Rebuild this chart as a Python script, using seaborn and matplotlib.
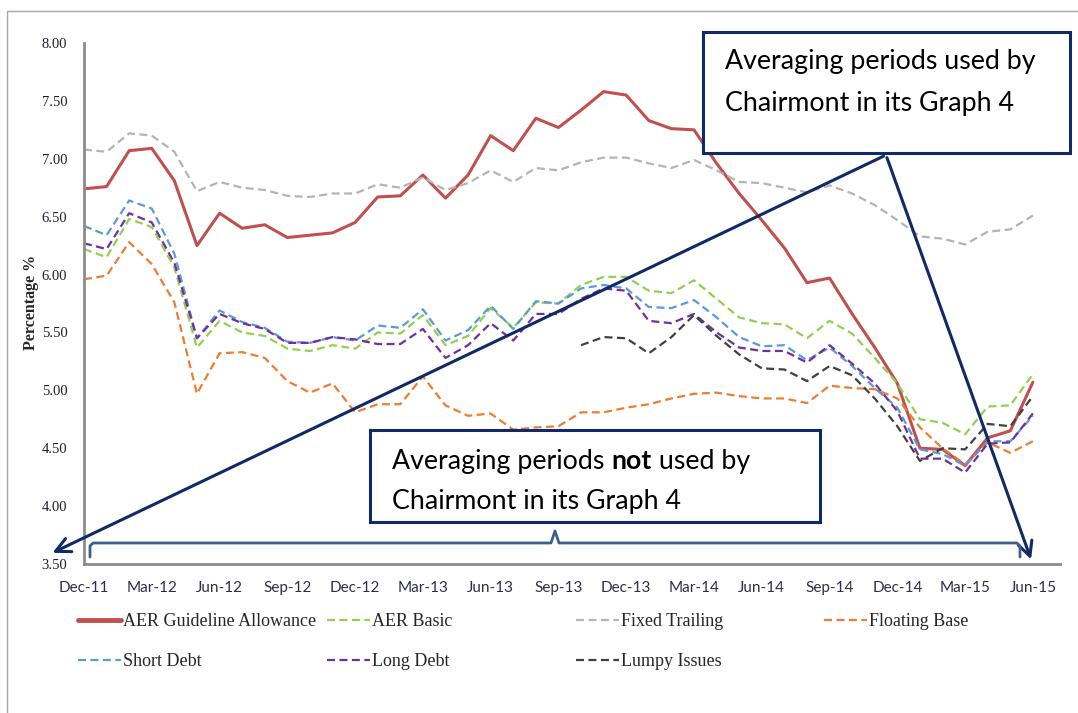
import numpy as np
import pandas as pd
import matplotlib
matplotlib.use("Agg")
import matplotlib.pyplot as plt
import seaborn as sns
from matplotlib.lines import Line2D
from matplotlib.patches import Rectangle, FancyArrowPatch

# ---- data (monthly, Dec-11 .. Jun-15) ----
months = pd.date_range("2011-12-01", "2015-06-01", freq="MS")
tick_labels = ["Dec-11", "Mar-12", "Jun-12", "Sep-12", "Dec-12", "Mar-13", "Jun-13",
               "Sep-13", "Dec-13", "Mar-14", "Jun-14", "Sep-14", "Dec-14", "Mar-15", "Jun-15"]

aer_guideline = [6.74, 6.76, 7.07, 7.09, 6.81, 6.25, 6.53, 6.40, 6.43, 6.32, 6.34, 6.36, 6.45,
                 6.67, 6.68, 6.86, 6.66, 6.86, 7.20, 7.07, 7.35, 7.27, 7.42, 7.58, 7.55,
                 7.33, 7.26, 7.25, 6.96, 6.70, 6.47, 6.23, 5.93, 5.97, 5.66, 5.37, 5.06,
                 4.50, 4.49, 4.35, 4.59, 4.65, 5.07]
aer_basic = [6.22, 6.15, 6.48, 6.41, 6.06, 5.37, 5.60, 5.50, 5.47, 5.36, 5.34, 5.39, 5.36,
             5.50, 5.49, 5.65, 5.39, 5.47, 5.71, 5.54, 5.76, 5.75, 5.91, 5.98, 5.98,
             5.86, 5.84, 5.95, 5.79, 5.63, 5.58, 5.57, 5.45, 5.60, 5.49, 5.28, 5.06,
             4.75, 4.72, 4.62, 4.86, 4.87, 5.14]
fixed_trailing = [7.08, 7.06, 7.22, 7.20, 7.06, 6.72, 6.80, 6.75, 6.73, 6.68, 6.67, 6.70, 6.70,
                  6.78, 6.75, 6.84, 6.73, 6.79, 6.90, 6.80, 6.92, 6.90, 6.97, 7.01, 7.01,
                  6.96, 6.92, 6.99, 6.90, 6.80, 6.79, 6.75, 6.71, 6.77, 6.70, 6.60, 6.47,
                  6.33, 6.31, 6.26, 6.37, 6.39, 6.51]
floating_base = [5.96, 5.99, 6.28, 6.09, 5.76, 4.97, 5.32, 5.33, 5.28, 5.08, 4.98, 5.06, 4.81,
                 4.88, 4.88, 5.12, 4.87, 4.78, 4.80, 4.66, 4.68, 4.69, 4.81, 4.81, 4.85,
                 4.88, 4.93, 4.97, 4.98, 4.95, 4.93, 4.93, 4.89, 5.04, 5.02, 5.01, 4.93,
                 4.68, 4.50, 4.36, 4.55, 4.46, 4.56]
short_debt = [6.42, 6.34, 6.64, 6.57, 6.18, 5.45, 5.69, 5.59, 5.54, 5.42, 5.41, 5.46, 5.43,
              5.56, 5.54, 5.70, 5.43, 5.52, 5.73, 5.53, 5.77, 5.75, 5.88, 5.91, 5.88,
              5.72, 5.71, 5.78, 5.63, 5.46, 5.38, 5.39, 5.26, 5.37, 5.21, 5.02, 4.85,
              4.49, 4.45, 4.35, 4.56, 4.56, 4.78]
long_debt = [6.27, 6.22, 6.53, 6.45, 6.10, 5.45, 5.66, 5.58, 5.53, 5.41, 5.41, 5.46, 5.44,
             5.40, 5.40, 5.53, 5.28, 5.39, 5.58, 5.43, 5.66, 5.66, 5.79, 5.88, 5.86,
             5.60, 5.58, 5.66, 5.50, 5.37, 5.34, 5.34, 5.24, 5.39, 5.23, 5.06, 4.82,
             4.41, 4.41, 4.29, 4.54, 4.55, 4.80]
lumpy_issues = [np.nan] * 22 + [5.39, 5.46, 5.45,
                                5.32, 5.46, 5.65, 5.47, 5.31, 5.19, 5.18, 5.08, 5.21, 5.13, 4.93, 4.69,
                                4.39, 4.50, 4.49, 4.71, 4.69, 4.95]

series = [
    ("AER Guideline Allowance", aer_guideline, "#c0504d", "solid"),
    ("AER Basic", aer_basic, "#92d050", "dash"),
    ("Fixed Trailing", fixed_trailing, "#b4b4b4", "dash"),
    ("Floating Base", floating_base, "#ed7d31", "dash"),
    ("Short Debt", short_debt, "#5b9bd5", "dash"),
    ("Long Debt", long_debt, "#7030a0", "dash"),
    ("Lumpy Issues", lumpy_issues, "#404040", "dash"),
]

W, H = 1078, 713
sns.set_style("white")
plt.rcParams["font.family"] = ["Liberation Serif", "DejaVu Serif"]

fig = plt.figure(figsize=(W / 100, H / 100), dpi=100)


def fx(px):
    return px / W


def fy(py):
    return 1 - py / H


ax = fig.add_axes([fx(84), fy(564), fx(1060) - fx(84), fy(43) - fy(564)])

x = np.arange(len(months))
handles = []
for name, vals, col, ls in series:
    if ls == "solid":
        kw = dict(linewidth=2.2, linestyle="-")
    else:
        kw = dict(linewidth=1.6, linestyle=(0, (3.6, 2.0)))
    sns.lineplot(x=x, y=np.array(vals, dtype=float), color=col, ax=ax, **kw)
    if ls == "solid":
        handles.append(Line2D([], [], color=col, linewidth=3.5))
    else:
        handles.append(Line2D([], [], color=col, **kw))

ax.set_xlim(0, 43.2)
ax.set_ylim(3.5, 8.0)
ax.set_xticks(np.arange(0, 43, 3))
ax.set_xticklabels(tick_labels, fontfamily="Lato", fontsize=11, color="#2e2e48")
ax.set_yticks(np.arange(3.5, 8.01, 0.5))
ax.set_yticklabels([f"{v:.2f}" for v in np.arange(3.5, 8.01, 0.5)], fontsize=10.5, color="#1e1e2e")
ax.tick_params(axis="x", direction="out", length=5, width=1, color="#9a9a9a", pad=7)
ax.tick_params(axis="y", length=0, pad=12)
for s in ["top", "right"]:
    ax.spines[s].set_visible(False)
for s in ["left", "bottom"]:
    ax.spines[s].set_color("#8c8c8c")
    ax.spines[s].set_linewidth(2)
ax.set_xlabel("")
ax.set_ylabel("")
fig.text(fx(31), fy(302), "Percentage %", rotation=90, fontsize=11.5, fontweight="bold",
         ha="center", va="center")

# legend: 4 equal-width columns
col_x = [78, 327, 576, 824]
row_y = [622, 662]
for i, (name, vals, col, ls) in enumerate(series):
    r, c = (0, i) if i < 4 else (1, i - 4)
    fig.legend([handles[i]], [name], loc="center left",
               bbox_to_anchor=(fx(col_x[c]), fy(row_y[r])), frameon=False,
               fontsize=13, handlelength=2.4, handletextpad=0.1, borderpad=0,
               borderaxespad=0)

# outer chart frame
fig.add_artist(Line2D([fx(7), fx(7), fx(1078)], [fy(713), fy(11), fy(11)],
                      color="#a6a6a6", lw=1))

navy = "#0f2a66"
# callout boxes
fig.add_artist(Rectangle((fx(703), fy(153)), fx(1070) - fx(703), fy(32) - fy(153),
                         transform=fig.transFigure, facecolor="white", edgecolor=navy, lw=2.2))
fig.add_artist(Rectangle((fx(370), fy(522)), fx(820) - fx(370), fy(430) - fy(522),
                         transform=fig.transFigure, facecolor="white", edgecolor=navy, lw=2.2))

tfont = dict(fontfamily="Lato", fontsize=19.3, color="black", va="center", ha="left")
fig.text(fx(725), fy(62), "Averaging periods used by", **tfont)
fig.text(fx(725), fy(103), "Chairmont in its Graph 4", **tfont)

renderer = fig.canvas.get_renderer()
t1 = fig.text(fx(392), fy(461), "Averaging periods ", **tfont)
bb = t1.get_window_extent(renderer)
t2 = fig.text(bb.x1 / W, fy(461), "not", fontweight="bold", **tfont)
bb2 = t2.get_window_extent(renderer)
fig.text(bb2.x1 / W, fy(461), " used by", **tfont)
fig.text(fx(392), fy(502), "Chairmont in its Graph 4", **tfont)

# arrows from the upper box
for tip in [(50, 554), (1032, 562)]:
    fig.add_artist(FancyArrowPatch((fx(886), fy(155)), (fx(tip[0]), fy(tip[1])),
                                   transform=fig.transFigure, arrowstyle="->",
                                   mutation_scale=26, color=navy, lw=2.2))

# bracket over the whole period
bx = [90, 90, 93, 551, 555, 559, 1017, 1020, 1020]
by = [557, 546, 543, 543, 531, 543, 543, 546, 557]
fig.add_artist(Line2D([fx(v) for v in bx], [fy(v) for v in by], color="#3e5f8a", lw=2))

fig.savefig("out.png", dpi=100)
